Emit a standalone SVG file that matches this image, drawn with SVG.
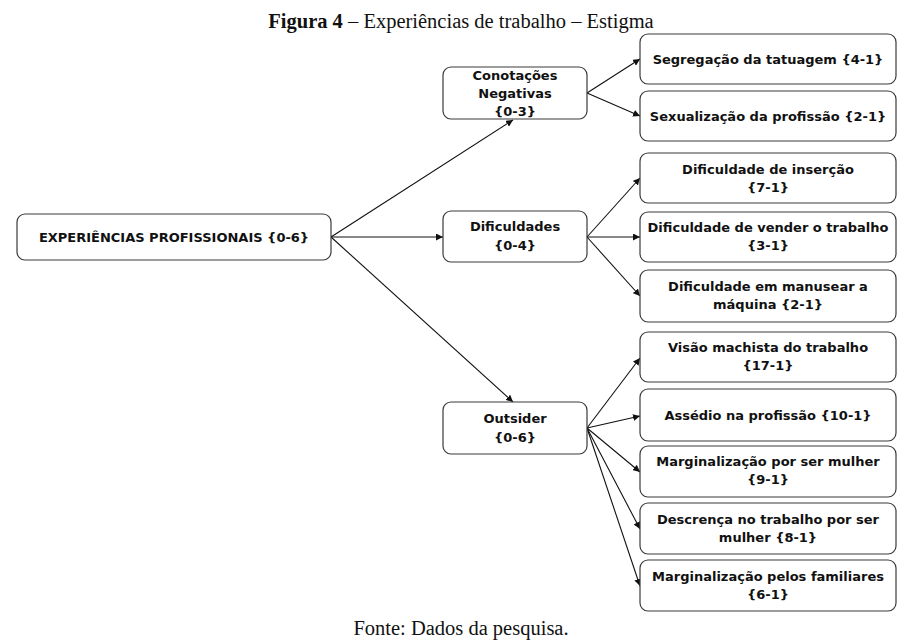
<svg xmlns="http://www.w3.org/2000/svg" width="905" height="643" viewBox="0 0 905 643">
<defs>
<style>
.box{fill:#fff;stroke:#3a3a3a;stroke-width:1.2}
.t{font-family:"DejaVu Sans",Verdana,sans-serif;font-weight:bold;font-size:13px;fill:#111;text-anchor:middle}
.cap{font-family:"Liberation Serif","Times New Roman",serif;font-size:20.5px;fill:#111;text-anchor:middle}
.c line{stroke:#111;stroke-width:1.1;marker-end:url(#ah)}
</style>
<marker id="ah" viewBox="0 0 10 10" refX="10" refY="5" markerWidth="7" markerHeight="7" orient="auto" markerUnits="userSpaceOnUse">
<path d="M0,0 L10,5 L0,10 z" fill="#111"/>
</marker>
</defs>
<rect width="905" height="643" fill="#fff"/>
<text class="cap" x="461" y="28"><tspan font-weight="bold">Figura 4</tspan> – Experiências de trabalho – Estigma</text>
<text class="cap" x="461" y="635">Fonte: Dados da pesquisa.</text>

<g class="c" id="connectors">
<line x1="331" y1="237" x2="513" y2="120"/>
<line x1="331" y1="237" x2="443" y2="237"/>
<line x1="331" y1="237" x2="513" y2="402"/>
<line x1="587" y1="93" x2="640" y2="59"/>
<line x1="587" y1="93" x2="640" y2="116"/>
<line x1="587" y1="237" x2="640" y2="178"/>
<line x1="587" y1="237" x2="640" y2="237"/>
<line x1="587" y1="237" x2="640" y2="296"/>
<line x1="587" y1="428" x2="640" y2="358"/>
<line x1="587" y1="428" x2="640" y2="416"/>
<line x1="587" y1="428" x2="640" y2="472"/>
<line x1="587" y1="428" x2="640" y2="529"/>
<line x1="587" y1="428" x2="640" y2="586"/>
</g>

<g id="root"><rect class="box" x="17" y="214" width="314" height="46" rx="8"/><text class="t" x="174" y="242">EXPERIÊNCIAS PROFISSIONAIS {0-6}</text></g>

<g id="conotacoes"><rect class="box" x="443" y="67" width="144" height="52" rx="8"/><text class="t" x="515" y="80">Conotações</text><text class="t" x="515" y="98">Negativas</text><text class="t" x="515" y="116">{0-3}</text></g>
<g id="dificuldades"><rect class="box" x="443" y="211" width="144" height="51" rx="8"/><text class="t" x="515" y="231">Dificuldades</text><text class="t" x="515" y="250">{0-4}</text></g>
<g id="outsider"><rect class="box" x="443" y="402" width="144" height="52" rx="8"/><text class="t" x="515" y="423">Outsider</text><text class="t" x="515" y="442">{0-6}</text></g>

<g id="segregacao"><rect class="box" x="640" y="34" width="256" height="50" rx="8"/><text class="t" x="768" y="64">Segregação da tatuagem {4-1}</text></g>
<g id="sexualizacao"><rect class="box" x="640" y="91" width="256" height="50" rx="8"/><text class="t" x="768" y="121">Sexualização da profissão {2-1}</text></g>

<g id="insercao"><rect class="box" x="640" y="153" width="256" height="50" rx="8"/><text class="t" x="768" y="174">Dificuldade de inserção</text><text class="t" x="768" y="192">{7-1}</text></g>
<g id="vender"><rect class="box" x="640" y="212" width="256" height="50" rx="8"/><text class="t" x="768" y="232">Dificuldade de vender o trabalho</text><text class="t" x="768" y="250">{3-1}</text></g>
<g id="manusear"><rect class="box" x="640" y="270" width="256" height="52" rx="8"/><text class="t" x="768" y="291">Dificuldade em manusear a</text><text class="t" x="768" y="309">máquina {2-1}</text></g>

<g id="visao"><rect class="box" x="640" y="332" width="256" height="50" rx="8"/><text class="t" x="768" y="352">Visão machista do trabalho</text><text class="t" x="768" y="370">{17-1}</text></g>
<g id="assedio"><rect class="box" x="640" y="389" width="256" height="52" rx="8"/><text class="t" x="768" y="420">Assédio na profissão {10-1}</text></g>
<g id="marg-mulher"><rect class="box" x="640" y="446" width="256" height="51" rx="8"/><text class="t" x="768" y="466">Marginalização por ser mulher</text><text class="t" x="768" y="484">{9-1}</text></g>
<g id="descrenca"><rect class="box" x="640" y="503" width="256" height="51" rx="8"/><text class="t" x="768" y="524">Descrença no trabalho por ser</text><text class="t" x="768" y="542">mulher {8-1}</text></g>
<g id="marg-familiares"><rect class="box" x="640" y="560" width="256" height="51" rx="8"/><text class="t" x="768" y="581">Marginalização pelos familiares</text><text class="t" x="768" y="599">{6-1}</text></g>
</svg>
